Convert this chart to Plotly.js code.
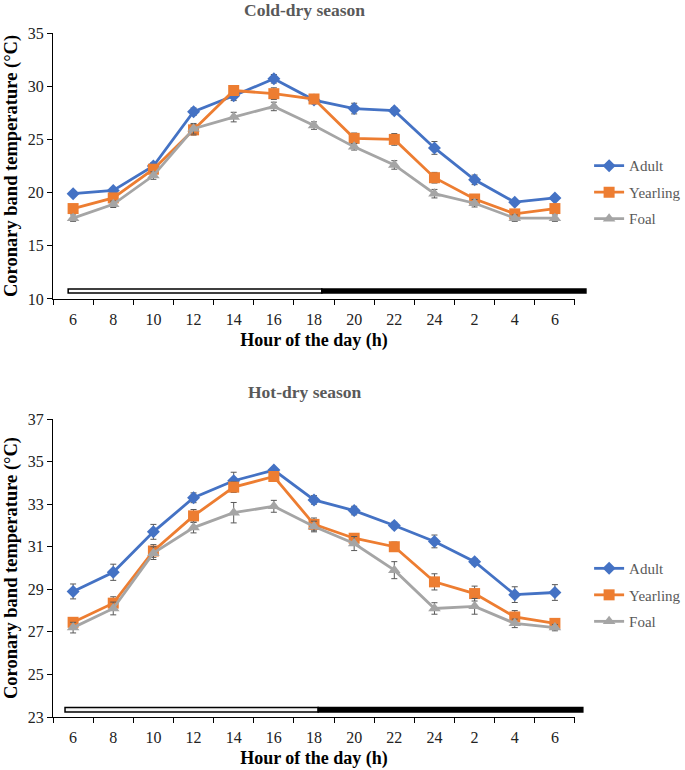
<!DOCTYPE html>
<html>
<head>
<meta charset="utf-8">
<script src="https://cdn.plot.ly/plotly-3.0.1.min.js"></script>
<style>html,body{margin:0;padding:0;background:#fff;}#chart{width:685px;height:770px;}</style>
</head>
<body>
<div id="chart"></div>
<script>
// Hour-of-day categories (13 points; 6 appears twice)
const hourLabels = ['6','8','10','12','14','16','18','20','22','24','2','4','6'];

// Cold-dry season
const coldAdult     = [19.9, 20.2, 22.5, 27.6, 29.1, 30.7, 28.7, 27.9, 27.7, 24.2, 21.2, 19.1, 19.5];
const coldAdultErr  = [0.2, 0.25, 0.3, 0.35, 0.45, 0.4, 0.35, 0.5, 0.3, 0.6, 0.45, 0.25, 0.2];
const coldYearling  = [18.5, 19.5, 22.2, 25.9, 29.6, 29.3, 28.8, 25.1, 25.0, 21.4, 19.4, 18.0, 18.5];
const coldYearErr   = [0.25, 0.3, 0.3, 0.5, 0.35, 0.55, 0.4, 0.5, 0.55, 0.5, 0.3, 0.3, 0.3];
const coldFoal      = [17.6, 18.9, 21.6, 26.0, 27.1, 28.1, 26.3, 24.3, 22.6, 19.9, 19.0, 17.6, 17.6];
const coldFoalErr   = [0.3, 0.3, 0.35, 0.5, 0.45, 0.4, 0.35, 0.3, 0.4, 0.4, 0.35, 0.3, 0.3];

// Hot-dry season
const hotAdult      = [28.9, 29.8, 31.7, 33.3, 34.1, 34.6, 33.2, 32.7, 32.0, 31.25, 30.3, 28.75, 28.85];
const hotAdultErr   = [0.35, 0.38, 0.35, 0.23, 0.4, 0.12, 0.2, 0.2, 0.15, 0.3, 0.15, 0.37, 0.37];
const hotYearling   = [27.45, 28.35, 30.8, 32.45, 33.8, 34.3, 32.05, 31.4, 31.0, 29.35, 28.8, 27.7, 27.4];
const hotYearErr    = [0.2, 0.3, 0.3, 0.3, 0.25, 0.15, 0.3, 0.15, 0.22, 0.38, 0.35, 0.3, 0.2];
const hotFoal       = [27.2, 28.1, 30.7, 31.9, 32.6, 32.9, 31.95, 31.15, 29.9, 28.1, 28.2, 27.4, 27.2];
const hotFoalErr    = [0.25, 0.3, 0.3, 0.25, 0.48, 0.28, 0.25, 0.33, 0.4, 0.27, 0.37, 0.2, 0.15];

const seriesNames  = ['Adult', 'Yearling', 'Foal'];
const seriesColors = ['#4472C4', '#ED7D31', '#A5A5A5'];
const seriesSymbols = ['diamond', 'square', 'triangle-up'];
const markerSizes = [10, 11, 11];

const xIdx = hourLabels.map((_, i) => i);
const FONT = "'Liberation Serif', 'Times New Roman', serif";

function mk(y, err, k, xa, ya, leg) {
  return {
    type: 'scatter', mode: 'lines+markers',
    x: xIdx, y: y,
    name: seriesNames[k],
    legend: leg,
    legendgroup: leg + seriesNames[k],
    xaxis: xa, yaxis: ya,
    line: {color: seriesColors[k], width: 2.8},
    marker: {symbol: seriesSymbols[k], size: markerSizes[k], color: seriesColors[k]},
    error_y: {type: 'data', array: err, visible: true, color: '#595959', thickness: 1, width: 3}
  };
}

const data = [
  mk(coldAdult, coldAdultErr, 0, 'x', 'y', 'legend'),
  mk(coldYearling, coldYearErr, 1, 'x', 'y', 'legend'),
  mk(coldFoal, coldFoalErr, 2, 'x', 'y', 'legend'),
  mk(hotAdult, hotAdultErr, 0, 'x2', 'y2', 'legend2'),
  mk(hotYearling, hotYearErr, 1, 'x2', 'y2', 'legend2'),
  mk(hotFoal, hotFoalErr, 2, 'x2', 'y2', 'legend2')
];

function xAxis(anchor) {
  return {
    anchor: anchor,
    domain: [0.0774, 0.8394],
    range: [-0.5, 12.5],
    tickmode: 'array', tickvals: xIdx, ticktext: hourLabels,
    ticks: '', showgrid: false, zeroline: false,
    showline: true, linecolor: '#000', linewidth: 1,
    tickfont: {family: FONT, size: 16, color: '#222'},
    ticklabelstandoff: 6,
    minor: {tickmode: 'linear', tick0: -0.5, dtick: 1, ticks: 'outside', ticklen: 5, tickcolor: '#000', tickwidth: 1, showgrid: false},
    title: {text: '<b>Hour of the day (h)</b>', font: {family: FONT, size: 18, color: '#000'}, standoff: 6},
    automargin: false,
    fixedrange: true
  };
}
function yAxis(anchor, domain, range, dtick) {
  return {
    anchor: anchor,
    domain: domain,
    range: range, dtick: dtick, tick0: range[0],
    ticks: 'outside', ticklen: 5, tickcolor: '#000', tickwidth: 1,
    showgrid: false, zeroline: false,
    showline: true, linecolor: '#000', linewidth: 1,
    tickfont: {family: FONT, size: 16, color: '#222'},
    title: {text: '<b>Coronary band temperature (°C)</b>', font: {family: FONT, size: 18.5, color: '#000'}, standoff: 5},
    automargin: false,
    fixedrange: true
  };
}

const legendCommon = {
  font: {family: FONT, size: 15, color: '#595959'},
  bgcolor: 'rgba(0,0,0,0)',
  itemwidth: 30,
  tracegroupgap: 4,
  xanchor: 'left', yanchor: 'top'
};

const layout = {
  width: 685, height: 770,
  margin: {l: 0, r: 0, t: 0, b: 0, autoexpand: false},
  paper_bgcolor: '#fff', plot_bgcolor: '#fff',
  showlegend: true,
  xaxis: xAxis('y'),
  yaxis: yAxis('x', [0.6117, 0.9571], [10, 35], 5),
  xaxis2: xAxis('y2'),
  yaxis2: yAxis('x2', [0.0688, 0.4558], [23, 37], 2),
  legend: Object.assign({x: 0.860, y: 0.806}, legendCommon),
  legend2: Object.assign({x: 0.860, y: 0.283}, legendCommon),
  annotations: [
    {text: '<b>Cold-dry season</b>', xref: 'paper', yref: 'paper', x: 0.445, y: 0.9868, yanchor: 'middle', showarrow: false,
     font: {family: FONT, size: 17.5, color: '#595959'}},
    {text: '<b>Hot-dry season</b>', xref: 'paper', yref: 'paper', x: 0.445, y: 0.4908, yanchor: 'middle', showarrow: false,
     font: {family: FONT, size: 17.5, color: '#595959'}}
  ],
  shapes: [
    {type: 'rect', xref: 'x domain', yref: 'y domain', x0: 0.029, x1: 0.515, y0: 0.0226, y1: 0.0376,
     fillcolor: '#fff', line: {color: '#000', width: 1.5}},
    {type: 'rect', xref: 'x domain', yref: 'y domain', x0: 0.515, x1: 1.021, y0: 0.0226, y1: 0.0376,
     fillcolor: '#000', line: {color: '#000', width: 1.5}},
    {type: 'rect', xref: 'x2 domain', yref: 'y2 domain', x0: 0.023, x1: 0.508, y0: 0.017, y1: 0.032,
     fillcolor: '#f4f4f4', line: {color: '#000', width: 1.5}},
    {type: 'rect', xref: 'x2 domain', yref: 'y2 domain', x0: 0.508, x1: 1.015, y0: 0.017, y1: 0.032,
     fillcolor: '#000', line: {color: '#000', width: 1.5}}
  ]
};

Plotly.newPlot('chart', data, layout, {displayModeBar: false, staticPlot: true});
</script>
</body>
</html>
